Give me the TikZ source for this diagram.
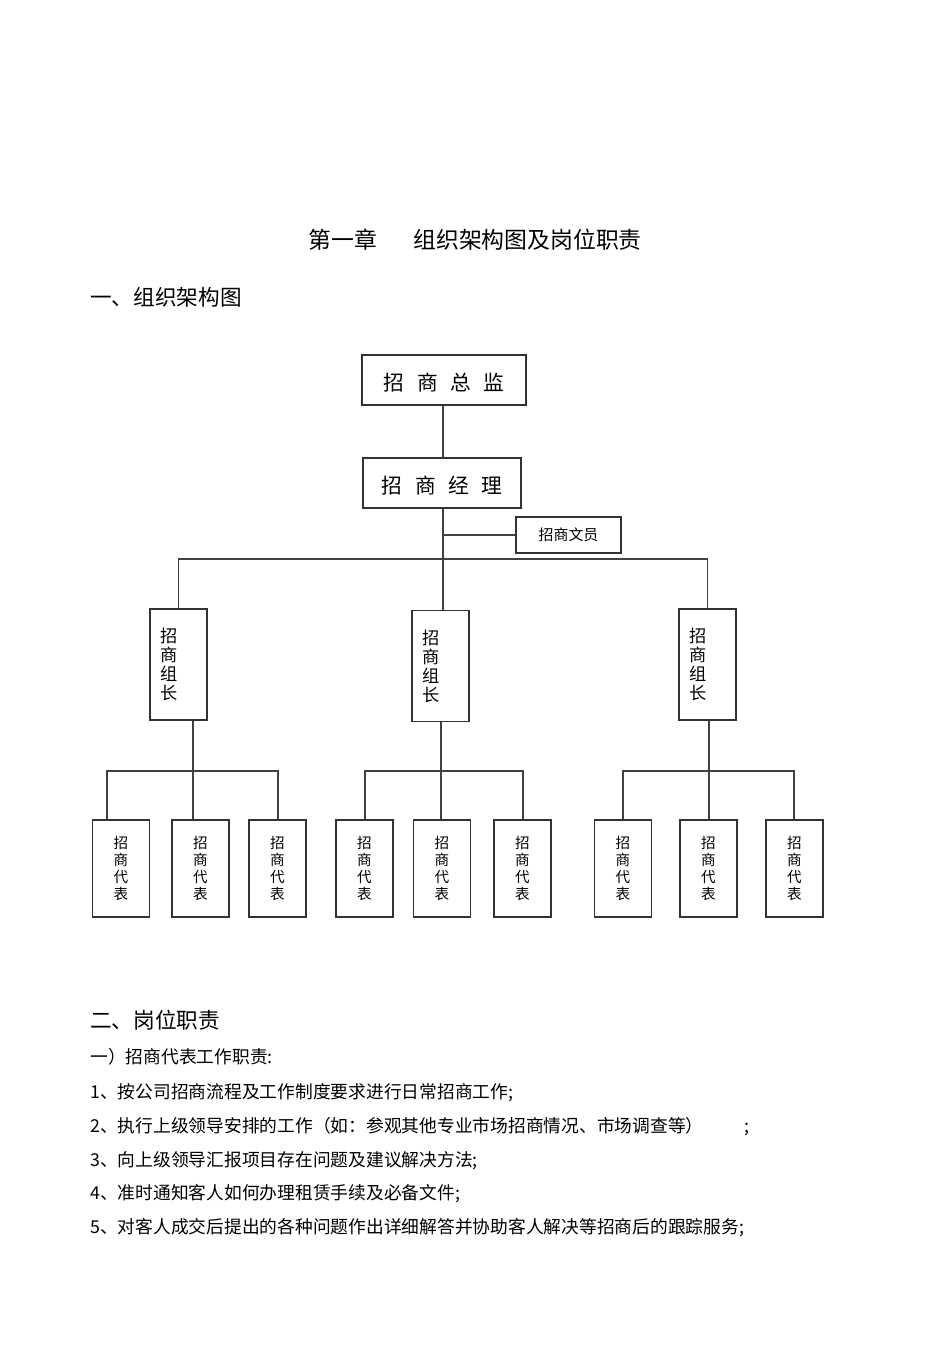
\documentclass[tikz,border=0pt]{standalone}
\usepackage{fontspec}
\setmainfont{Noto Sans CJK SC}
\usetikzlibrary{positioning, calc}

\begin{document}
\begin{tikzpicture}[
    x=0.02cm, y=-0.02cm,
    line/.style     = {draw=black!75, line width=0.6pt},
    box/.style      = {rectangle, draw=black!80, line width=0.6pt, inner sep=0pt, text centered},
    topbox/.style   = {box, minimum width=3.28cm, minimum height=1.0cm, text height=1.3em, text depth=0.1em, font=\fontsize{11.8}{13}\selectfont},
    clerk/.style    = {box, minimum width=2.1cm, minimum height=0.72cm, font=\fontsize{8.5}{10}\selectfont},
    leader/.style   = {box, align=left, text width=0.74cm, inner xsep=0.2cm, minimum height=2.22cm, font=\fontsize{9.8}{10.8}\selectfont},
    rep/.style      = {box, align=center, minimum width=1.14cm, minimum height=1.94cm, font=\fontsize{8.3}{9.7}\selectfont},
    title/.style    = {inner sep=0pt, anchor=west, font=\fontsize{13}{15}\selectfont},
    heading/.style  = {inner sep=0pt, anchor=west, font=\fontsize{12.3}{14}\selectfont},
    body/.style     = {inner sep=0pt, anchor=west, font=\fontsize{10.1}{12}\selectfont}
]
    \path [fill=white] (0,0) rectangle (950,1345);

    % --- Judul ---
    \node (title) [title] at (308,240) {第一章\hspace{1.6em}组织架构图及岗位职责};
    \node (sec1)  [heading] at (90,297) {一、组织架构图};

    % --- Pimpinan ---
    \node (zongjian) [topbox] at (444,380) {招\hspace{0.6em}商\hspace{0.6em}总\hspace{0.6em}监};
    \node (jingli)   [topbox, minimum width=3.16cm] at (442,483) {招\hspace{0.6em}商\hspace{0.6em}经\hspace{0.6em}理};
    \node (wenyuan)  [clerk] at (568.5,535) {招商文员};

    % --- Kepala Grup ---
    \node (zuzhang1) [leader] at (178.5,664.5) {招\\商\\组\\长};
    \node (zuzhang2) [leader] at (440.5,666) {招\\商\\组\\长};
    \node (zuzhang3) [leader] at (707.5,664.5) {招\\商\\组\\长};

    % --- Perwakilan ---
    \node (rep11) [rep] at (121,868.5) {招\\商\\代\\表};
    \node (rep12) [rep] at (200.5,868.5) {招\\商\\代\\表};
    \node (rep13) [rep] at (277.5,868.5) {招\\商\\代\\表};
    \node (rep21) [rep] at (364.5,868.5) {招\\商\\代\\表};
    \node (rep22) [rep] at (442,868.5) {招\\商\\代\\表};
    \node (rep23) [rep] at (522.5,868.5) {招\\商\\代\\表};
    \node (rep31) [rep] at (623,868.5) {招\\商\\代\\表};
    \node (rep32) [rep] at (708.5,868.5) {招\\商\\代\\表};
    \node (rep33) [rep] at (794.5,868.5) {招\\商\\代\\表};

    % --- Titik Jalur ---
    \coordinate (spine) at (443,0);
    \coordinate (bar)   at (0,559);
    \coordinate (g1)  at (193,771);
    \coordinate (g1a) at (107,771);
    \coordinate (g1c) at (278,771);
    \coordinate (g2)  at (441,771);
    \coordinate (g2a) at (365,771);
    \coordinate (g2c) at (523,771);
    \coordinate (g3)  at (709,771);
    \coordinate (g3a) at (623,771);
    \coordinate (g3c) at (794,771);

    % --- Garis Atas ---
    \draw [line] (zongjian.south -| spine) -- (jingli.north -| spine);
    \draw [line] (jingli.south -| spine) -- (zuzhang2.north -| spine);
    \draw [line] (spine |- wenyuan.west) -- (wenyuan.west);
    \draw [line] (zuzhang1.north) |- (zuzhang3.north |- bar) -- (zuzhang3.north);

    % --- Garis Grup ---
    \draw [line] (g1 |- zuzhang1.south) -- (g1 |- rep12.north);
    \draw [line] (g1a |- rep11.north) -- (g1a) -- (g1c) -- (g1c |- rep13.north);
    \draw [line] (g2 |- zuzhang2.south) -- (g2 |- rep22.north);
    \draw [line] (g2a |- rep21.north) -- (g2a) -- (g2c) -- (g2c |- rep23.north);
    \draw [line] (g3 |- zuzhang3.south) -- (g3 |- rep32.north);
    \draw [line] (g3a |- rep31.north) -- (g3a) -- (g3c) -- (g3c |- rep33.north);

    % --- Teks Tugas ---
    \node (sec2)  [heading] at (90,1020) {二、岗位职责};
    \node (duty0) [body] at (90,1057) {一）招商代表工作职责:};
    \node (duty1) [body] at (90,1093) {1、按公司招商流程及工作制度要求进行日常招商工作;};
    \node (duty2) [body] at (90,1127) {2、执行上级领导安排的工作（如：参观其他专业市场招商情况、市场调查等）\hspace{2.3em};};
    \node (duty3) [body] at (90,1161) {3、向上级领导汇报项目存在问题及建议解决方法;};
    \node (duty4) [body] at (90,1194) {4、准时通知客人如何办理租赁手续及必备文件;};
    \node (duty5) [body] at (90,1228) {5、对客人成交后提出的各种问题作出详细解答并协助客人解决等招商后的跟踪服务;};

\end{tikzpicture}
\end{document}
